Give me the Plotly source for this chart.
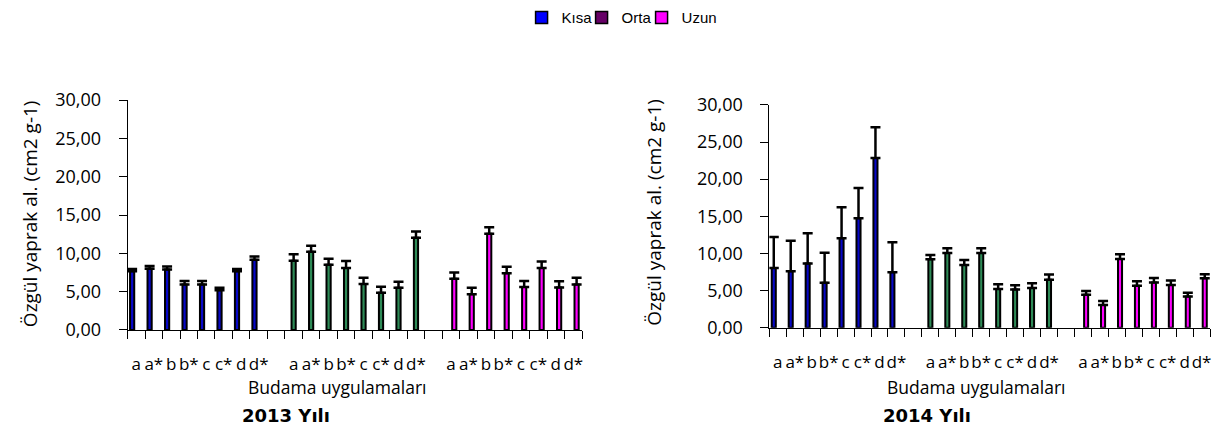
import plotly.graph_objects as go

# Pruning treatments (one group of 8 per shoot length), blank slot between groups
treatments = ["a", "a*", "b", "b*", "c", "c*", "d", "d*"]
series_names = ["Kısa", "Orta", "Uzun"]

# 2013 – specific leaf area (cm2 g-1) and upper error
kisa_2013 = [7.65, 8.0, 7.9, 5.95, 5.95, 5.2, 7.65, 9.15]
kisa_2013_err = [0.3, 0.35, 0.4, 0.45, 0.45, 0.3, 0.3, 0.45]
orta_2013 = [9.05, 10.2, 8.5, 8.1, 6.0, 4.85, 5.5, 12.05]
orta_2013_err = [0.85, 0.8, 0.8, 0.9, 0.8, 0.8, 0.8, 0.8]
uzun_2013 = [6.7, 4.65, 12.55, 7.4, 5.6, 8.1, 5.55, 5.95]
uzun_2013_err = [0.8, 0.85, 0.85, 0.85, 0.8, 0.85, 0.8, 0.85]

# 2014
kisa_2014 = [8.05, 7.6, 8.65, 6.05, 12.05, 14.75, 22.85, 7.45]
kisa_2014_err = [4.15, 4.1, 4.05, 4.05, 4.15, 4.05, 4.15, 4.05]
orta_2014 = [9.2, 10.05, 8.45, 10.05, 5.2, 5.15, 5.35, 6.45]
orta_2014_err = [0.6, 0.65, 0.65, 0.65, 0.65, 0.55, 0.65, 0.7]
uzun_2014 = [4.45, 3.05, 9.25, 5.65, 6.1, 5.75, 4.2, 6.65]
uzun_2014_err = [0.5, 0.55, 0.65, 0.6, 0.6, 0.6, 0.5, 0.55]

y_ticks = [0, 5, 10, 15, 20, 25, 30]
y_ticktext = ["0,00", "5,00", "10,00", "15,00", "20,00", "25,00", "30,00"]

bar_colors = ["#0808c8", "#2e8b57", "#ff00ff"]
legend_colors = ["#0000ff", "#660066", "#ff00ff"]
bar_centers = [-0.24, 0.0, 0.19]
BAR_W = 0.24

W, H = 1218, 430
FONT = "Open Sans"

# slot layout: 8 treatments, empty, 8 treatments, empty, 8 treatments
slot_labels = treatments + [""] + treatments + [""] + treatments
slot_pos = list(range(len(slot_labels)))
label_pos = [p for p, t in zip(slot_pos, slot_labels) if t]
label_txt = [t for t in slot_labels if t]

fig = go.Figure()

years = [
    ("x", "y", [kisa_2013, orta_2013, uzun_2013], [kisa_2013_err, orta_2013_err, uzun_2013_err]),
    ("x2", "y2", [kisa_2014, orta_2014, uzun_2014], [kisa_2014_err, orta_2014_err, uzun_2014_err]),
]

for xa, ya, vals, errs in years:
    for g in range(3):
        xs = [g * 9 + i for i in range(len(treatments))]
        fig.add_trace(go.Bar(
            x=xs, y=vals[g], xaxis=xa, yaxis=ya,
            width=BAR_W, offset=bar_centers[g] - BAR_W / 2,
            marker=dict(color=bar_colors[g], line=dict(color="black", width=2)),
            error_y=dict(type="data", symmetric=False, array=errs[g],
                         arrayminus=[0] * len(errs[g]),
                         color="black", thickness=2.5, width=5),
            showlegend=False, name=series_names[g],
        ))

# legend entries
for name, col in zip(series_names, legend_colors):
    fig.add_trace(go.Bar(x=[None], y=[None], name=name, xaxis="x", yaxis="y",
                         marker=dict(color=col, line=dict(color="black", width=1.5))))
# blank trailing entry so the last label keeps its full width in the compact legend
fig.add_trace(go.Bar(x=[None], y=[None], name=" ", xaxis="x", yaxis="y",
                     marker=dict(color="rgba(0,0,0,0)", line=dict(width=0))))


def xaxis_cfg(domain):
    return dict(
        domain=domain, range=[-0.5, len(slot_labels) - 0.5], anchor=None,
        tickmode="array", tickvals=label_pos, ticktext=label_txt, tickangle=0,
        ticks="", showgrid=False, zeroline=False, showline=True,
        linecolor="black", linewidth=1,
        tickfont=dict(family=FONT, size=17, color="black"),
        ticklabelstandoff=19,
        minor=dict(ticks="outside", tick0=-0.5, dtick=1, ticklen=8,
                   tickcolor="black", tickwidth=1, showgrid=False),
    )


def yaxis_cfg(domain):
    return dict(
        domain=domain, range=[0, 30], tickmode="array", tickvals=y_ticks,
        ticktext=y_ticktext, ticks="outside", ticklen=8, tickcolor="black",
        showgrid=False, zeroline=False, showline=True, linecolor="black",
        linewidth=1, tickfont=dict(family=FONT, size=18, color="black"),
        ticklabelstandoff=14,
    )


xl = xaxis_cfg([127.7 / W, 582.5 / W]); xl["anchor"] = "y"
xr = xaxis_cfg([770 / W, 1211 / W]); xr["anchor"] = "y2"
yl = yaxis_cfg([1 - 335.7 / H, 1 - 92.3 / H]); yl["anchor"] = "x"
yr = yaxis_cfg([1 - 333.3 / H, 1 - 97.3 / H]); yr["anchor"] = "x2"

annotations = []


def note(text, px, py, size, angle=0, family=FONT, bold=False):
    annotations.append(dict(
        text=f"<b>{text}</b>" if bold else text, x=px / W, y=1 - py / H,
        xref="paper", yref="paper", xanchor="center", yanchor="middle",
        showarrow=False, textangle=angle,
        font=dict(family=family, size=size, color="black"),
    ))


note("Özgül yaprak al. (cm2 g-1)", 30, 212, 19, angle=-90)
note("Özgül yaprak al. (cm2 g-1)", 655, 211, 19, angle=-90)
note("Budama uygulamaları", 337, 396, 17.5)
note("Budama uygulamaları", 977, 396, 17.5)
note("2013 Yılı", 286, 426, 18, family="DejaVu Sans", bold=True)
note("2014 Yılı", 928, 426, 18, family="DejaVu Sans", bold=True)

fig.update_layout(
    width=W, height=H, margin=dict(l=0, r=0, t=0, b=0),
    paper_bgcolor="white", plot_bgcolor="white",
    barmode="overlay",
    xaxis=xl, xaxis2=xr, yaxis=yl, yaxis2=yr,
    annotations=annotations,
    legend=dict(orientation="h", x=522 / W, xanchor="left", y=1 - 5 / H,
                yanchor="middle", font=dict(family="Liberation Sans", size=15, color="black"),
                itemwidth=30, entrywidth=15, tracegroupgap=0, bgcolor="rgba(0,0,0,0)"),
)

fig.write_html("out.html")
